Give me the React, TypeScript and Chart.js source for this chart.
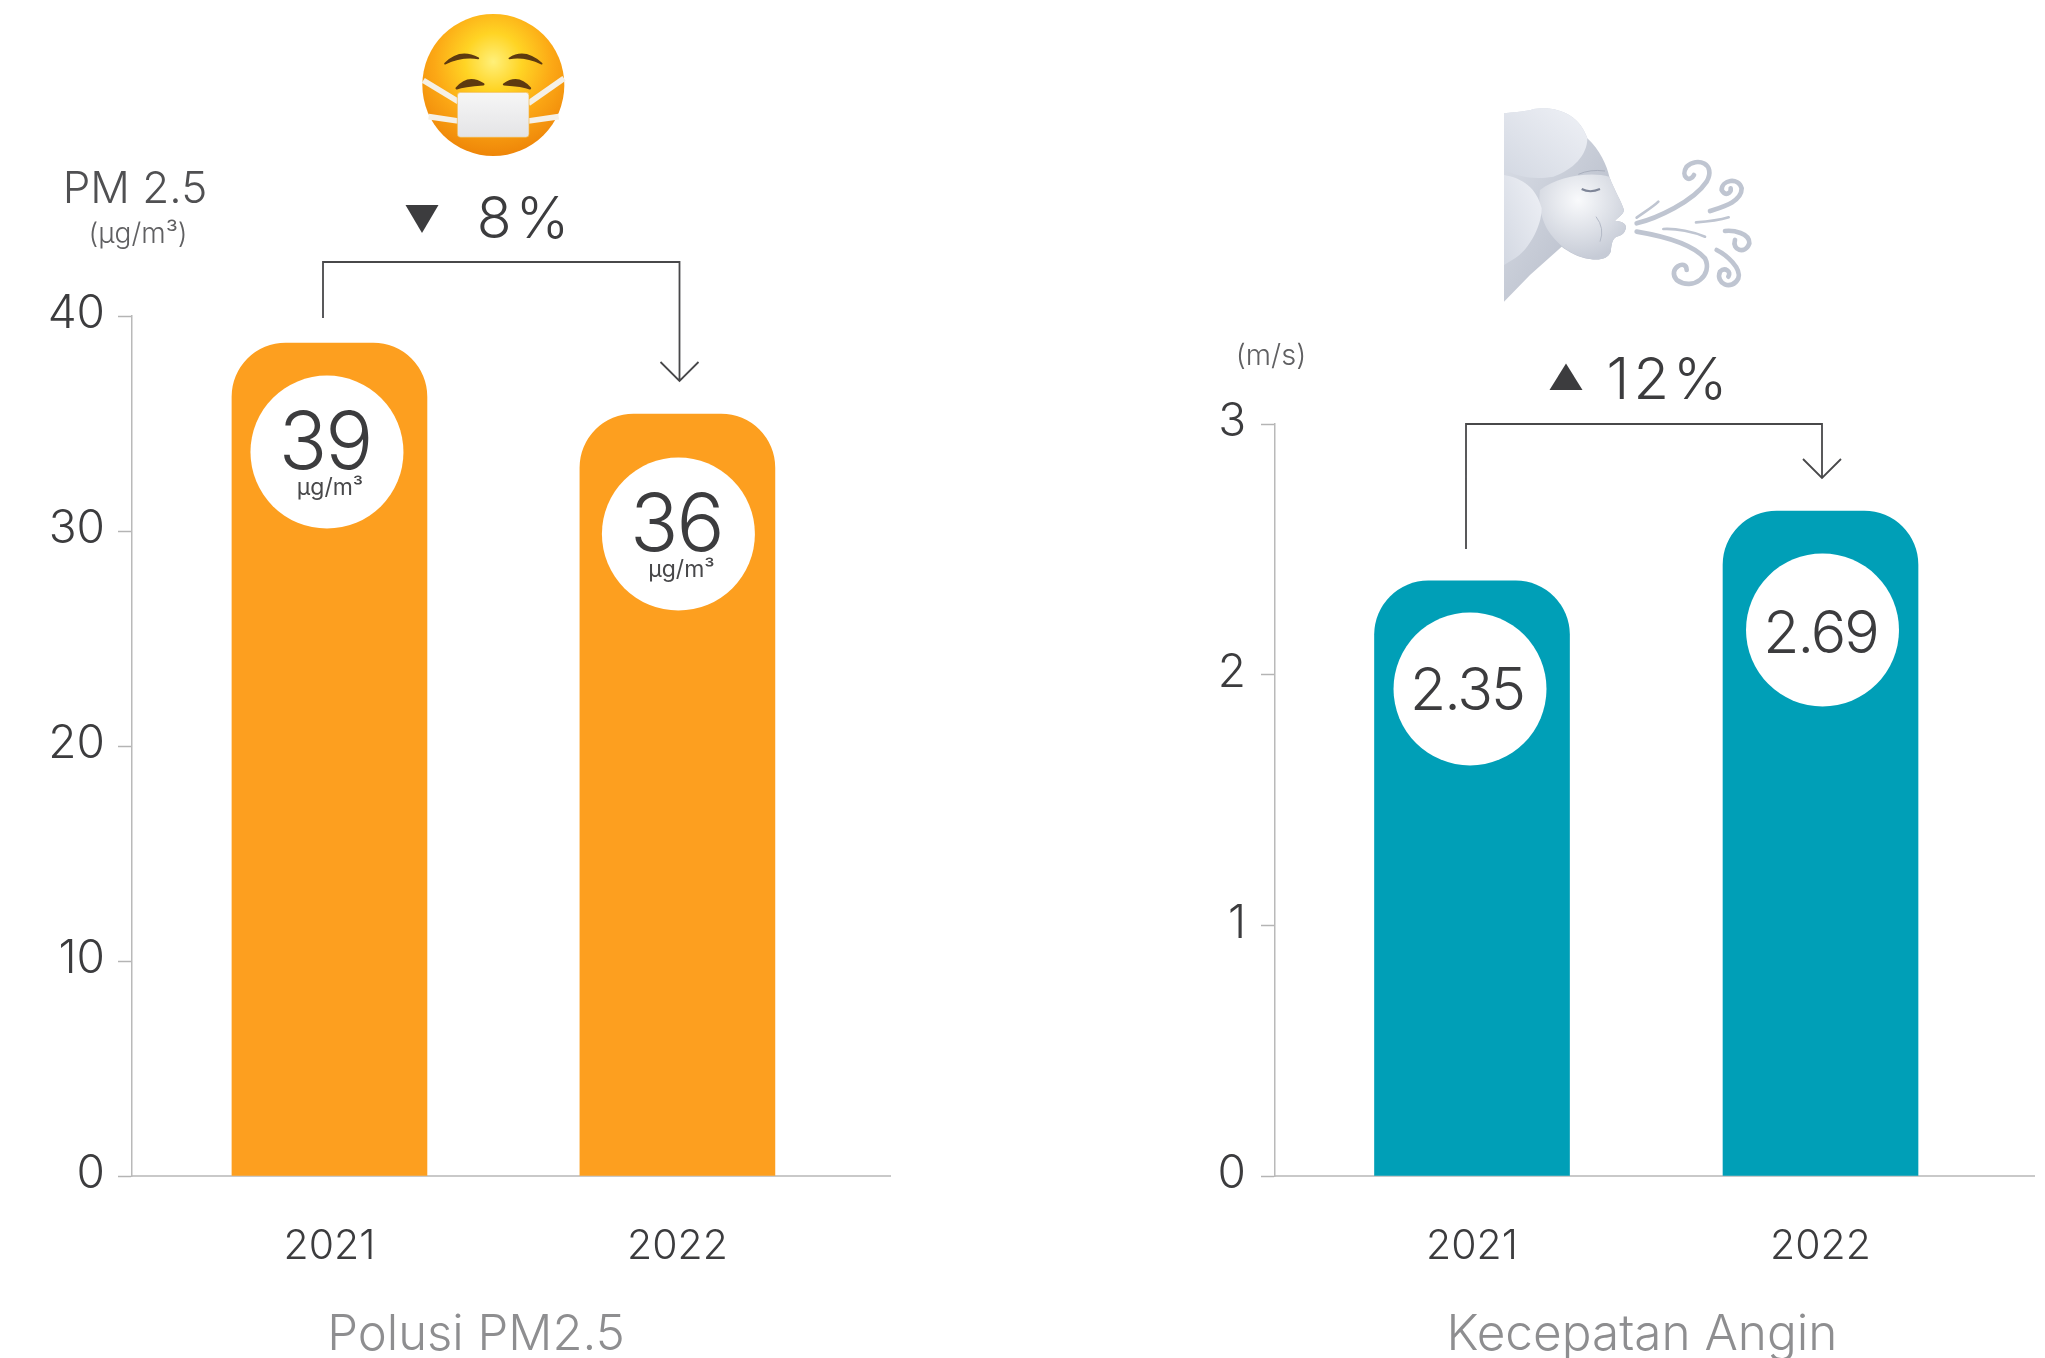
import React, { useEffect, useRef } from "react";
import { Chart, registerables } from "chart.js";

Chart.register(...registerables);

const years = ["2021", "2022"];
const pmValues = [38.74, 35.44];
const pmLabels = ["39", "36"];
const windValues = [2.374, 2.653];
const windLabels = ["2.35", "2.69"];
const pmTitle = "Polusi PM2.5";
const windTitle = "Kecepatan Angin";
const pmUnit = "µg/m³";
const pmAxisName = "PM 2.5";
const pmAxisUnit = "(µg/m³)";
const windAxisUnit = "(m/s)";
const pmChange = "8%";
const windChange = "12%";

const FONT = "Inter, 'Noto Sans', sans-serif";
const DARK = "#3c3c3e";
const H = 1358;
const BASE_Y = 1176;

type Txt = { t: string; x: number; y: number; size: number; color?: string; weight?: number; spacing?: string };

const leftCfg = {
  originX: 0,
  width: 1022,
  axisX: 132,
  axisEnd: 890,
  top: 316,
  yMax: 40,
  step: 10,
  tickPad: 13,
  color: "#FD9F1F",
  values: pmValues,
  xMin: -0.5675,
  xMax: 1.611,
  labels: pmLabels,
  circles: [
    { dx: -2.5, dy: 109 },
    { dx: 1, dy: 120 },
  ],
  labelDx: [-2, -2],
  labelDy: [-7, -7],
  labelSize: 80,
  unit: pmUnit,
  bracket: { x1: 323, y1: 318, top: 262, x2: 679.5, y2: 381, head: 19 },
  triangle: [[405.5, 205], [438.5, 205], [422, 233]],
  texts: [
    { t: pmAxisName, x: 135, y: 190, size: 44, color: "#505052" },
    { t: pmAxisUnit, x: 138, y: 235, size: 28, color: "#606062" },
    { t: pmChange, x: 525, y: 221, size: 57, color: DARK, spacing: "4px" },
    { t: pmTitle, x: 476, y: 1335, size: 49, color: "#8e8e90" },
  ] as Txt[],
};

const rightCfg = {
  originX: 1022,
  width: 1023,
  axisX: 1275,
  axisEnd: 2034,
  top: 424,
  yMax: 3,
  step: 1,
  tickPad: 15,
  color: "#009FB7",
  values: windValues,
  xMin: -0.5653,
  xMax: 1.6126,
  labels: windLabels,
  circles: [
    { dx: -2, dy: 108 },
    { dx: 2, dy: 119 },
  ],
  labelDx: [-3, -2],
  labelDy: [3, 5],
  labelSize: 59,
  unit: "",
  bracket: { x1: 1466, y1: 549, top: 424, x2: 1822, y2: 478, head: 19 },
  triangle: [[1549.5, 390], [1582.5, 390], [1566, 363.5]],
  texts: [
    { t: windAxisUnit, x: 1271, y: 356, size: 29, color: "#606062" },
    { t: windChange, x: 1669, y: 382, size: 58, color: DARK, spacing: "4px" },
    { t: windTitle, x: 1642, y: 1335, size: 49.5, color: "#8e8e90" },
  ] as Txt[],
};

type Cfg = typeof leftCfg;

function drawText(ctx: any, o: Txt) {
  ctx.font = `${o.weight ?? 300} ${o.size}px ${FONT}`;
  ctx.fillStyle = o.color ?? DARK;
  ctx.textAlign = "center";
  ctx.textBaseline = "middle";
  ctx.letterSpacing = o.spacing ?? "0px";
  ctx.fillText(o.t, o.x, o.y);
  ctx.letterSpacing = "0px";
}

const overlay = {
  id: "overlay",
  afterDatasetsDraw(chart: any, _a: any, opts: any) {
    const cfg: Cfg = opts.cfg;
    const { ctx, scales } = chart;
    const xs = scales.x;
    const ys = scales.y;
    ctx.save();
    // value discs, placed from the scales
    cfg.values.forEach((v, i) => {
      const cx = xs.getPixelForValue(i) + cfg.circles[i].dx;
      const cy = ys.getPixelForValue(v) + cfg.circles[i].dy;
      ctx.fillStyle = "#ffffff";
      ctx.beginPath();
      ctx.arc(cx, cy, 76.5, 0, Math.PI * 2);
      ctx.fill();
      drawText(ctx, {
        t: cfg.labels[i],
        x: cx + cfg.labelDx[i],
        y: cy + cfg.labelDy[i],
        size: cfg.labelSize,
        spacing: "-2px",
        weight: cfg.unit ? 350 : 300,
      });
      if (cfg.unit) {
        drawText(ctx, { t: cfg.unit, x: cx + 3, y: cy + 36, size: 23, weight: 400, color: "#48484a" });
      }
    });
    ctx.translate(-cfg.originX, 0);
    // change bracket
    const b = cfg.bracket;
    ctx.strokeStyle = "#48484a";
    ctx.lineWidth = 1.8;
    ctx.beginPath();
    ctx.moveTo(b.x1, b.y1);
    ctx.lineTo(b.x1, b.top);
    ctx.lineTo(b.x2, b.top);
    ctx.lineTo(b.x2, b.y2);
    ctx.moveTo(b.x2 - b.head, b.y2 - b.head);
    ctx.lineTo(b.x2, b.y2);
    ctx.lineTo(b.x2 + b.head, b.y2 - b.head);
    ctx.stroke();
    ctx.fillStyle = DARK;
    ctx.beginPath();
    cfg.triangle.forEach(([x, y], i) => (i ? ctx.lineTo(x, y) : ctx.moveTo(x, y)));
    ctx.closePath();
    ctx.fill();
    cfg.texts.forEach((o) => drawText(ctx, o));
    ctx.restore();
  },
};

function buildChart(canvas: HTMLCanvasElement, cfg: Cfg) {
  return new Chart(canvas, {
    type: "bar",
    data: {
      datasets: [
        {
          data: cfg.values.map((y, x) => ({ x, y })),
          backgroundColor: cfg.color,
          barThickness: 195,
          borderRadius: { topLeft: 54, topRight: 54, bottomLeft: 0, bottomRight: 0 },
          borderSkipped: "bottom",
        },
      ],
    } as any,
    plugins: [overlay],
    options: {
      responsive: false,
      animation: false,
      devicePixelRatio: 1,
      layout: {
        padding: {
          left: cfg.axisX - cfg.originX - 130,
          right: cfg.originX + cfg.width - cfg.axisEnd,
          top: cfg.top,
          bottom: 0,
        },
      },
      plugins: {
        legend: { display: false },
        title: { display: false },
        tooltip: { enabled: false },
        overlay: { cfg },
      },
      scales: {
        x: {
          type: "linear",
          offset: false,
          min: cfg.xMin,
          max: cfg.xMax,
          afterBuildTicks(scale: any) {
            scale.ticks = years.map((_, i) => ({ value: i }));
          },
          afterFit(scale: any) {
            scale.height = H - BASE_Y;
          },
          grid: { display: false, drawTicks: false },
          border: { display: true, color: "#c9c9c9", width: 2 },
          ticks: {
            autoSkip: false,
            maxRotation: 0,
            padding: 46,
            color: DARK,
            font: { family: FONT, size: 41, weight: 300 },
            callback: (v: any) => years[v] ?? "",
          },
        },
        y: {
          type: "linear",
          min: 0,
          max: cfg.yMax,
          afterFit(scale: any) {
            scale.width = 130;
          },
          grid: { drawOnChartArea: false, drawTicks: true, tickLength: 14, tickColor: "#b4b4b4", tickWidth: 1.5 },
          border: { display: true, color: "#b9b9b9", width: 1.5 },
          ticks: {
            stepSize: cfg.step,
            padding: cfg.tickPad,
            labelOffset: -1.5,
            color: DARK,
            font: { family: FONT, size: 46, weight: 300 },
          },
        },
      },
    } as any,
  });
}

function MaskEmoji() {
  return (
    <svg style={{ position: "absolute", left: 410, top: 5 }} width={170} height={160} viewBox="0 0 510 480">
      <defs>
        <radialGradient id="face" gradientUnits="userSpaceOnUse" cx={250} cy={170} r={285}>
          <stop offset="0%" stopColor="#FFF07A" />
          <stop offset="30%" stopColor="#FFD424" />
          <stop offset="62%" stopColor="#FCA815" />
          <stop offset="100%" stopColor="#EE8508" />
        </radialGradient>
        <linearGradient id="mask" x1="0" y1="0" x2="0" y2="1">
          <stop offset="0%" stopColor="#F6F6F6" />
          <stop offset="100%" stopColor="#E4E4E6" />
        </linearGradient>
      </defs>
      <circle cx={250} cy={240} r={213} fill="url(#face)" />
      <g fill="#5E3A10" stroke="#5E3A10" strokeLinejoin="round">
        <path d="M105,176 Q150,130 205,160 Q155,152 105,176 Z" strokeWidth={5} />
        <path d="M395,176 Q345,130 298,160 Q345,152 395,176 Z" strokeWidth={5} />
        <path d="M140,250 Q175,208 220,238 C190,240 160,242 140,250 Z" strokeWidth={7} />
        <path d="M360,250 Q325,208 282,238 C312,240 340,242 360,250 Z" strokeWidth={7} />
      </g>
      <g fill="none" stroke="#F5F0E6" strokeWidth={17}>
        <path d="M40,226 L145,290" />
        <path d="M56,335 L145,348" />
        <path d="M462,220 L355,295" />
        <path d="M446,335 L355,348" />
      </g>
      <rect x={142} y={262} width={215} height={135} rx={10} fill="url(#mask)" stroke="#F4B640" strokeWidth={2} />
    </svg>
  );
}

function WindEmoji() {
  return (
    <svg style={{ position: "absolute", left: 1490, top: 95 }} width={280} height={215} viewBox="0 0 840 645">
      <defs>
        <linearGradient id="wind" x1="0" y1="0" x2="1" y2="1">
          <stop offset="0%" stopColor="#DDE1E9" />
          <stop offset="100%" stopColor="#AEB4C2" />
        </linearGradient>
        <radialGradient id="cheek" cx="45%" cy="30%" r="70%">
          <stop offset="0%" stopColor="#F9FAFC" />
          <stop offset="100%" stopColor="#C6CBD6" />
        </radialGradient>
        <linearGradient id="hair" x1="0" y1="1" x2="1" y2="0">
          <stop offset="0%" stopColor="#D3D8E2" />
          <stop offset="100%" stopColor="#EFF1F6" />
        </linearGradient>
      </defs>
      <path
        d="M42,55 C80,50 110,50 130,42 C200,30 270,60 292,130 C330,165 350,210 358,245 C375,290 395,320 402,345 C400,360 385,365 375,378 C395,378 408,385 408,398 C405,410 400,420 380,425 C365,432 365,450 362,470 C355,490 330,497 300,492 C265,488 235,470 215,455 L120,540 L42,620 Z"
        fill="url(#wind)"
      />
      <path
        d="M150,285 C200,245 300,228 358,245 C375,290 395,320 402,345 C400,360 385,365 375,378 C395,378 408,385 408,398 C405,410 400,420 380,425 C365,432 365,450 362,470 C355,490 330,497 300,492 C250,485 200,450 170,400 C150,360 145,320 150,285 Z"
        fill="url(#cheek)"
      />
      <path d="M42,240 C100,250 140,280 155,340 C155,400 110,470 75,490 L42,510 Z" fill="url(#hair)" />
      <path
        d="M42,55 C80,50 110,50 130,42 C200,30 270,60 292,130 C292,180 250,225 190,245 C130,255 85,245 42,225 Z"
        fill="url(#hair)"
      />
      <path d="M275,282 Q300,295 330,282" fill="none" stroke="#7F8698" strokeWidth={6} />
      <path d="M265,238 Q300,222 345,228" fill="none" stroke="#A9AFBD" strokeWidth={3} />
      <path d="M318,365 Q345,400 330,440" fill="none" stroke="#B4BAC7" strokeWidth={3} />
      <g fill="none" stroke="#BFC5D1" strokeLinecap="round">
        <g strokeWidth={14}>
          <path d="M440,385 C500,370 610,320 650,260 C680,205 620,185 590,215 C570,245 600,265 612,240" />
          <path d="M660,348 C700,335 755,320 755,280 C745,245 695,255 695,285 C705,305 725,295 722,280" />
          <path d="M440,410 C500,420 600,440 645,490 C670,540 610,590 560,555 C530,520 590,490 590,525" />
          <path d="M705,408 C730,405 780,415 778,445 C765,480 725,465 735,435" />
          <path d="M680,465 C710,480 755,520 745,550 C725,590 675,565 690,530 C705,515 725,530 715,545" />
        </g>
        <g strokeWidth={8}>
          <path d="M440,368 C465,350 490,335 505,320" />
          <path d="M618,382 C650,380 690,375 716,367" />
          <path d="M520,402 C560,400 610,410 645,425" />
        </g>
      </g>
    </svg>
  );
}

export default function App() {
  const leftRef = useRef<HTMLCanvasElement>(null);
  const rightRef = useRef<HTMLCanvasElement>(null);

  useEffect(() => {
    const a = buildChart(leftRef.current!, leftCfg);
    const b = buildChart(rightRef.current!, rightCfg);
    return () => {
      a.destroy();
      b.destroy();
    };
  }, []);

  return (
    <div style={{ position: "absolute", left: 0, top: 0, width: 2045, height: H, overflow: "hidden", background: "#fff" }}>
      <canvas ref={leftRef} width={leftCfg.width} height={H} style={{ position: "absolute", left: 0, top: 0 }} />
      <canvas ref={rightRef} width={rightCfg.width} height={H} style={{ position: "absolute", left: rightCfg.originX, top: 0 }} />
      <MaskEmoji />
      <WindEmoji />
    </div>
  );
}
